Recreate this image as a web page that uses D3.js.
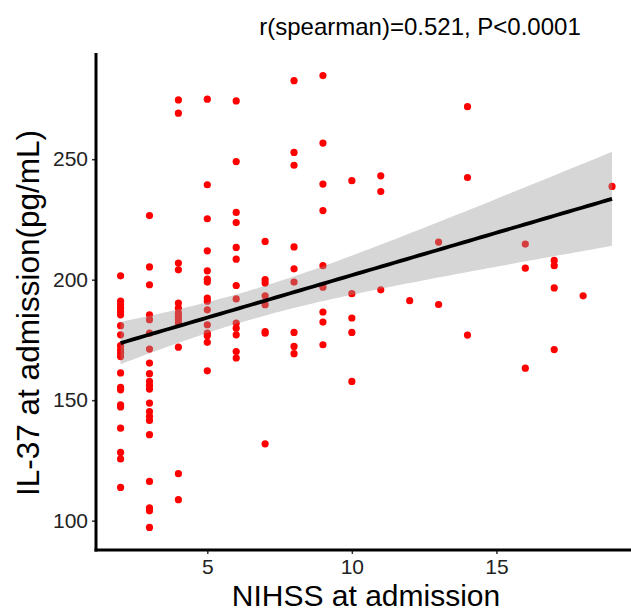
<!DOCTYPE html>
<html>
<head>
<meta charset="utf-8">
<script src="https://cdn.jsdelivr.net/npm/d3@7"></script>
<style>
  body { margin: 0; background: #fff; }
  text { font-family: "Liberation Sans", Arial, sans-serif; }
</style>
</head>
<body>
<div id="chart"></div>
<script>
// NIHSS levels and IL-37 values read for each level
var nihssLevels = [2, 3, 4, 5, 6, 7, 8, 9, 10, 11, 12, 13, 14, 16, 17, 18, 19];
var il37ByLevel = [
    [201.6, 191.1, 189.6, 188.2, 186.8, 185.4, 180.9, 177.1, 172.6, 170.9, 169.6, 168.1, 161.3, 155.3, 154.3, 148.1, 147.2, 138.4, 128.3, 125.6, 113.8],
    [226.6, 205.3, 197.9, 185.4, 183.4, 177.8, 171.2, 165.4, 161.0, 157.8, 156.1, 154.6, 148.8, 145.3, 143.3, 141.6, 135.7, 116.3, 105.3, 104.1, 97.2],
    [274.6, 269.1, 206.9, 204.1, 190.3, 188.2, 186.1, 184.7, 183.4, 182.0, 172.0, 119.5, 108.7],
    [274.9, 239.4, 225.3, 212.0, 203.7, 200.2, 199.0, 192.4, 191.1, 187.5, 181.3, 177.8, 176.7, 174.0, 162.2],
    [274.2, 249.0, 227.9, 223.7, 213.4, 208.5, 197.6, 192.0, 182.0, 179.9, 177.1, 170.2, 167.5],
    [215.9, 200.0, 198.6, 193.3, 189.6, 178.5, 177.8, 131.9],
    [282.6, 252.8, 247.5, 213.6, 204.5, 199.0, 178.1, 172.3, 169.3],
    [284.7, 256.7, 239.7, 228.7, 205.8, 196.9, 186.6, 182.4, 173.0],
    [241.1, 194.2, 184.1, 178.1, 157.8],
    [243.1, 236.6, 195.8],
    [191.3],
    [215.6, 189.7],
    [271.8, 242.4, 177.0],
    [214.8, 204.8, 163.3],
    [208.0, 205.8, 196.6, 171.0],
    [193.3],
    [238.7]
];
var xTicks = [5, 10, 15];
var yTicks = [100, 150, 200, 250];
var titleText = "r(spearman)=0.521, P<0.0001";
var xTitle = "NIHSS at admission";
var yTitle = "IL-37 at admission(pg/mL)";

function drawChart() {
    var width = 631, height = 613;
    var margin = {left: 96, right: 0, top: 53, bottom: 63};

    var points = [];
    nihssLevels.forEach(function(lv, i) {
        il37ByLevel[i].forEach(function(v) { points.push({x: lv, y: v}); });
    });

    // ggplot style 5% expansion
    var xr = d3.extent(points, function(d) { return d.x; });
    var yr = d3.extent(points, function(d) { return d.y; });
    var xpad = (xr[1] - xr[0]) * 0.05, ypad = (yr[1] - yr[0]) * 0.05;

    var x = d3.scaleLinear()
        .domain([xr[0] - xpad, xr[1] + xpad])
        .range([margin.left, margin.left + (width - margin.left) * 1.0105]);
    var y = d3.scaleLinear()
        .domain([yr[0] - ypad, yr[1] + ypad])
        .range([height - margin.bottom, margin.top]);

    // linear fit with 95% confidence band
    var n = points.length;
    var mx = d3.mean(points, function(d) { return d.x; });
    var my = d3.mean(points, function(d) { return d.y; });
    var sxx = d3.sum(points, function(d) { return (d.x - mx) * (d.x - mx); });
    var sxy = d3.sum(points, function(d) { return (d.x - mx) * (d.y - my); });
    var slope = sxy / sxx, icpt = my - slope * mx;
    var sse = d3.sum(points, function(d) { var r = d.y - (icpt + slope * d.x); return r * r; });
    var s = Math.sqrt(sse / (n - 2));
    var tq = 1.978;
    var fit = d3.range(0, 80).map(function(i) {
        var fx = xr[0] + (xr[1] - xr[0]) * i / 79;
        var fy = icpt + slope * fx;
        var se = s * Math.sqrt(1 / n + (fx - mx) * (fx - mx) / sxx);
        return {x: fx, y: fy, lo: fy - tq * se, hi: fy + tq * se};
    });

    var svg = d3.select('#chart')
        .append('svg')
        .attr('width', width)
        .attr('height', height);

    svg.append('g')
        .selectAll('circle')
        .data(points)
        .enter()
            .append('circle')
            .attr('cx', function(d) { return x(d.x); })
            .attr('cy', function(d) { return y(d.y); })
            .attr('r', 3.6)
            .attr('fill', '#ff0000');

    svg.append('path')
        .datum(fit)
        .attr('fill', '#999999')
        .attr('fill-opacity', 0.4)
        .attr('d', d3.area()
            .x(function(d) { return x(d.x); })
            .y0(function(d) { return y(d.lo); })
            .y1(function(d) { return y(d.hi); }));

    svg.append('path')
        .datum(fit)
        .attr('fill', 'none')
        .attr('stroke', '#000')
        .attr('stroke-width', 3.8)
        .attr('d', d3.line()
            .x(function(d) { return x(d.x); })
            .y(function(d) { return y(d.y); }));

    // axes
    var xAxis = svg.append('g')
        .attr('transform', 'translate(0,' + (height - margin.bottom) + ')')
        .call(d3.axisBottom(x).tickValues(xTicks).tickSize(4).tickPadding(5));
    var yAxis = svg.append('g')
        .attr('transform', 'translate(' + margin.left + ',0)')
        .call(d3.axisLeft(y).tickValues(yTicks).tickSize(4).tickPadding(4));

    [xAxis, yAxis].forEach(function(g) {
        g.select('.domain').remove();
        g.selectAll('.tick line').attr('stroke', '#333').attr('stroke-width', 1.5);
        g.selectAll('.tick text')
            .attr('fill', '#222')
            .style('font-size', '21px')
            .style('font-family', '"Liberation Sans", Arial, sans-serif');
    });

    svg.append('line')
        .attr('x1', margin.left).attr('x2', margin.left)
        .attr('y1', margin.top).attr('y2', height - margin.bottom + 1.5)
        .attr('stroke', '#000').attr('stroke-width', 3);
    svg.append('line')
        .attr('x1', margin.left - 1.5).attr('x2', width)
        .attr('y1', height - margin.bottom).attr('y2', height - margin.bottom)
        .attr('stroke', '#000').attr('stroke-width', 3);

    svg.append('text')
        .attr('x', 420).attr('y', 35)
        .attr('text-anchor', 'middle')
        .style('font-size', '24px')
        .text(titleText);

    svg.append('text')
        .attr('x', 366).attr('y', 606)
        .attr('text-anchor', 'middle')
        .style('font-size', '30px')
        .text(xTitle);

    svg.append('text')
        .attr('transform', 'translate(39,' + 313 + ') rotate(-90)')
        .attr('text-anchor', 'middle')
        .style('font-size', '31.5px')
        .text(yTitle);
}
drawChart();
</script>
</body>
</html>
